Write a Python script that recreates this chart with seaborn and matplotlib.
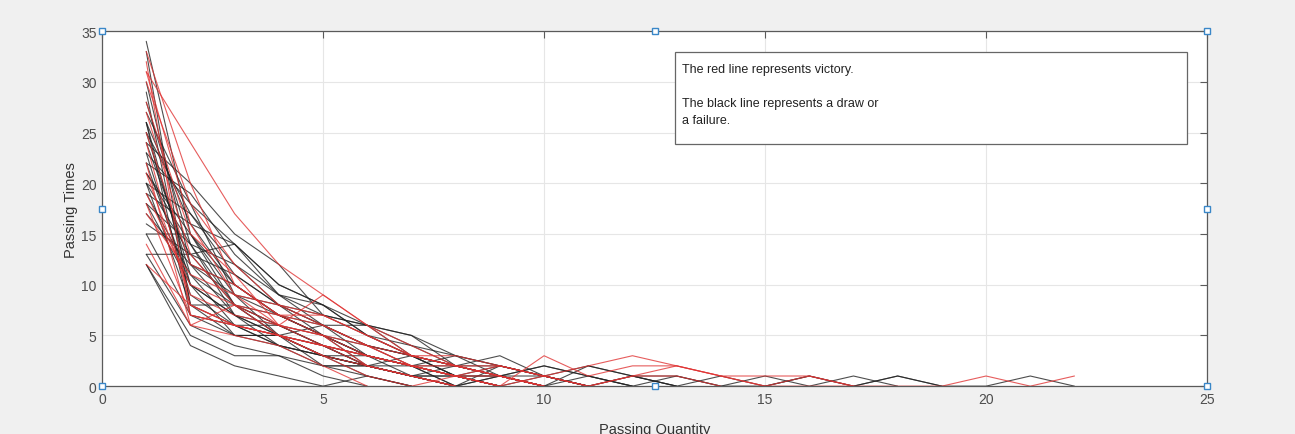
import matplotlib
matplotlib.use("Agg")
import matplotlib.pyplot as plt
import pandas as pd
import seaborn as sns
from matplotlib.patches import Rectangle

# passing times per passing quantity (x = 1, 2, 3, ...), one list per game
black_games = [
    [34, 15, 8, 5, 3, 2, 1, 0, 1, 0, 2, 1, 0],
    [33, 8, 6, 4, 3, 1, 0],
    [30, 12, 7, 5, 2, 2, 1, 0],
    [28, 14, 8, 6, 4, 2, 1, 1, 0],
    [26, 16, 10, 7, 5, 3, 2, 0],
    [26, 7, 6, 5, 4, 3, 2, 1, 0],
    [25, 17, 11, 8, 5, 3, 2, 1, 0, 1, 0],
    [24, 20, 15, 12, 7, 6, 5, 2, 1, 0],
    [23, 18, 14, 10, 8, 5, 3, 2, 1, 0],
    [22, 19, 13, 9, 6, 4, 3, 1, 0],
    [22, 10, 5, 5, 3, 2, 1, 0],
    [21, 15, 9, 7, 5, 3, 2, 1, 1, 0],
    [20, 17, 12, 8, 6, 4, 2, 0],
    [20, 8, 5, 4, 3, 2, 1, 1, 0],
    [19, 16, 14, 9, 7, 6, 3, 2, 2, 1, 0],
    [18, 10, 7, 6, 4, 3, 2, 2, 1, 0, 1, 0],
    [17, 12, 9, 5, 4, 2, 1, 0, 2, 1, 0, 1, 0],
    [16, 13, 14, 10, 8, 5, 4, 2, 1, 0],
    [15, 15, 10, 7, 5, 4, 3, 1, 0],
    [13, 13, 8, 5, 3, 2, 1, 0],
    [13, 6, 4, 3, 2, 1, 0],
    [12, 4, 2, 1, 0, 1, 0],
    [12, 5, 3, 3, 1, 0],
    [15, 7, 5, 5, 6, 6, 5, 3, 2, 1, 0],
    [27, 18, 9, 8, 6, 3, 2, 1, 2, 1, 0],
    [25, 11, 8, 7, 6, 4, 3, 2, 1, 1, 0, 1, 0, 1, 0, 1, 0, 1, 0],
    [23, 9, 6, 4, 3, 2, 2, 1, 1, 2, 1, 0, 1, 0, 0, 1, 0, 1, 0, 0, 1, 0],
    [21, 14, 7, 5, 3, 3, 1, 2, 3, 1, 2, 1, 1, 0, 1, 0, 1, 0],
    [29, 8, 8, 6, 4, 2, 1, 0],
    [24, 12, 10, 7, 5, 2, 3, 2, 1, 0],
    [20, 13, 11, 8, 7, 5, 3, 1, 0],
    [19, 11, 6, 6, 5, 3, 2, 3, 1, 0],
    [18, 14, 12, 9, 8, 6, 4, 3, 2, 1, 0],
    [26, 10, 7, 4, 2, 2, 1, 0, 1, 2, 1, 0],
]

red_games = [
    [32, 7, 6, 5, 4, 2, 1, 0],
    [31, 16, 9, 6, 5, 3, 2, 1, 0],
    [30, 18, 12, 8, 6, 4, 3, 2, 1, 0],
    [31, 24, 17, 12, 9, 6, 4, 2, 1, 0],
    [27, 13, 8, 6, 9, 6, 3, 2, 1, 0],
    [25, 12, 10, 7, 7, 5, 3, 3, 2, 1, 0],
    [24, 8, 6, 5, 4, 3, 2, 1, 0, 1, 2, 3, 2, 1, 0, 1, 0],
    [22, 6, 8, 5, 3, 2, 1, 0],
    [21, 9, 7, 6, 5, 4, 2, 1, 1, 0],
    [19, 10, 8, 7, 6, 4, 2, 1, 0],
    [18, 7, 6, 5, 3, 1, 0, 1, 2, 1, 0, 1, 1, 0],
    [17, 11, 9, 8, 7, 5, 3, 2, 2, 1, 0, 1, 2, 1, 1, 1, 0],
    [14, 6, 5, 4, 2, 0],
    [12, 8, 6, 5, 4, 3, 2, 1, 0, 3, 1, 2, 2, 1, 0, 0, 0, 0, 0, 1, 0, 1],
    [28, 15, 11, 6, 4, 3, 2, 2, 1, 0],
    [33, 20, 10, 7, 5, 2, 1, 0],
]

note_lines = ["The red line represents victory.", "",
              "The black line represents a draw or", "a failure."]

rows = []
for result, games in [("other", black_games), ("victory", red_games)]:
    for g, values in enumerate(games):
        for i, v in enumerate(values):
            rows.append({"game": f"{result}{g}", "result": result,
                         "quantity": i + 1, "times": v})
df = pd.DataFrame(rows)

sns.set_style("whitegrid")
plt.rcParams["font.family"] = ["Liberation Sans", "DejaVu Sans"]

fig = plt.figure(figsize=(12.95, 4.35), dpi=100, facecolor="#f0f0f0")
ax = fig.add_axes([0.0788, 0.110, 0.8533, 0.816])

sns.lineplot(data=df, x="quantity", y="times", hue="result", units="game",
             estimator=None, palette={"other": "#222222", "victory": "#e03434"},
             linewidth=0.8, alpha=0.8, legend=False, ax=ax)

ax.set_xlim(0, 25)
ax.set_ylim(0, 35)
ax.set_xticks(range(0, 26, 5))
ax.set_yticks(range(0, 36, 5))
ax.grid(True, color="#e6e6e6", linewidth=0.8)
for s in ax.spines.values():
    s.set_color("#5a5a5a")
    s.set_linewidth(0.9)
ax.tick_params(direction="in", length=5, color="#5a5a5a", labelsize=10,
               labelcolor="#4d4d4d", top=True, right=True, pad=4)
ax.set_xlabel("Passing Quantity", fontsize=10.5, color="#333333", labelpad=12)
ax.set_ylabel("Passing Times", fontsize=10.5, color="#333333", labelpad=2)

# note box
ax.add_patch(Rectangle((0.5186, 0.682), 0.4634, 0.259, transform=ax.transAxes,
                       facecolor="white", edgecolor="#666666", linewidth=0.9,
                       zorder=5))
for k, line in enumerate(note_lines):
    ax.text(0.5250, 0.893 - k * 0.048, line, transform=ax.transAxes,
            fontsize=9, color="#222222", va="center", zorder=6)

# selection handles of the axes
hx = [0, 0.5, 1, 0, 1, 0, 0.5, 1]
hy = [0, 0, 0, 0.5, 0.5, 1, 1, 1]
ax.plot(hx, hy, "s", transform=ax.transAxes, clip_on=False, markersize=4,
        markerfacecolor="white", markeredgecolor="#3a87c8", markeredgewidth=1,
        linestyle="none", zorder=10)

fig.savefig("out.png", dpi=100, facecolor=fig.get_facecolor())
